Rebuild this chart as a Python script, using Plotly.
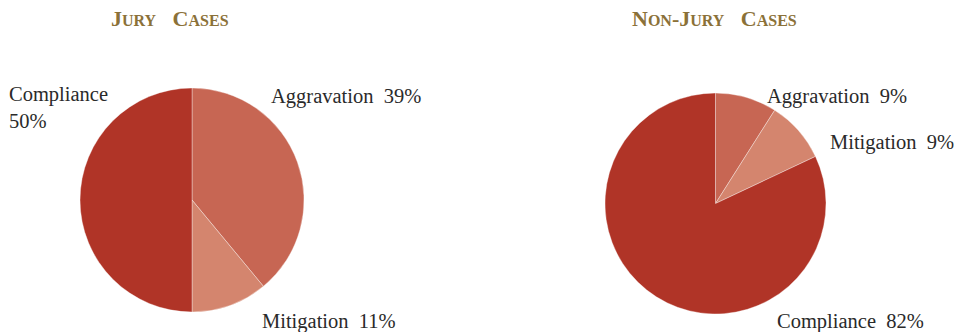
import plotly.graph_objects as go

# Case outcome shares (percent)
categories = ["Aggravation", "Mitigation", "Compliance"]
jury_values = [39, 11, 50]
nonjury_values = [9, 9, 82]

slice_colors = ["#C76653", "#D4856E", "#B03427"]
title_color = "#8B7138"
label_font = dict(family="Liberation Serif, DejaVu Serif, serif", size=20.5, color="#2a2a2a")

W, H = 959, 332


def px_x(x):
    return x / W


def px_y(y):
    return (H - y) / H


def small_caps(text, small=16):
    out = []
    for word in text.split(" "):
        parts = []
        for seg in word.split("-"):
            parts.append(seg[0] + "<span style='font-size:%dpx'>%s</span>" % (small, seg[1:].upper()))
        out.append("-".join(parts))
    return "<b>" + "&nbsp;&nbsp;&nbsp;".join(out) + "</b>"


fig = go.Figure()

pie_common = dict(
    labels=categories,
    sort=False,
    direction="clockwise",
    rotation=0,
    textinfo="none",
    hoverinfo="label+percent",
    marker=dict(colors=slice_colors, line=dict(color="rgba(255,255,255,0.6)", width=0.6)),
    showlegend=False,
)

fig.add_trace(go.Pie(
    values=jury_values,
    domain=dict(x=[px_x(80), px_x(304)], y=[px_y(312), px_y(88)]),
    **pie_common,
))
fig.add_trace(go.Pie(
    values=nonjury_values,
    domain=dict(x=[px_x(605), px_x(826)], y=[px_y(314), px_y(93)]),
    **pie_common,
))

title_font = dict(family="Liberation Serif, serif", size=22, color=title_color)
annotations = [
    dict(text=small_caps("Jury Cases"), x=px_x(170), y=px_y(18), xanchor="center", yanchor="middle",
         font=title_font),
    dict(text=small_caps("Non-Jury Cases"), x=px_x(714), y=px_y(18), xanchor="center", yanchor="middle",
         font=title_font),
    dict(text=f"{categories[2]}<br>{jury_values[2]}%", x=px_x(7), y=px_y(107), xanchor="left", yanchor="middle",
         align="left", font=label_font),
    dict(text=f"{categories[0]}&nbsp; {jury_values[0]}%", x=px_x(269), y=px_y(97), xanchor="left",
         yanchor="middle", font=label_font),
    dict(text=f"{categories[1]}&nbsp; {jury_values[1]}%", x=px_x(260), y=px_y(321), xanchor="left",
         yanchor="middle", font=label_font),
    dict(text=f"{categories[0]}&nbsp; {nonjury_values[0]}%", x=px_x(765), y=px_y(96), xanchor="left",
         yanchor="middle", font=label_font),
    dict(text=f"{categories[1]}&nbsp; {nonjury_values[1]}%", x=px_x(828), y=px_y(142), xanchor="left",
         yanchor="middle", font=label_font),
    dict(text=f"{categories[2]}&nbsp; {nonjury_values[2]}%", x=px_x(775), y=px_y(321), xanchor="left",
         yanchor="middle", font=label_font),
]
for a in annotations:
    a.update(xref="paper", yref="paper", showarrow=False)

fig.update_layout(
    width=W,
    height=H,
    margin=dict(l=0, r=0, t=0, b=0),
    paper_bgcolor="white",
    plot_bgcolor="white",
    annotations=annotations,
)

fig.write_html("out.html")
